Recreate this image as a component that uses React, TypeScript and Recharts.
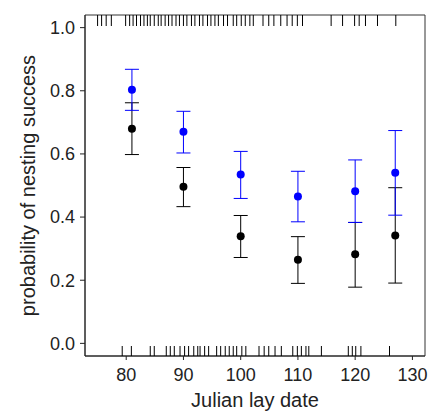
import { ComposedChart, Scatter, ErrorBar, XAxis, YAxis, ReferenceArea } from "recharts";

// lay dates of the grouped estimates
const dates = [81, 90, 100, 110, 120, 127];

// black series: estimate + 95% CI
const blackEst = [0.68, 0.496, 0.339, 0.265, 0.282, 0.342];
const blackLo = [0.598, 0.433, 0.272, 0.19, 0.178, 0.191];
const blackHi = [0.762, 0.557, 0.405, 0.338, 0.383, 0.493];

// blue series: estimate + 95% CI
const blueEst = [0.803, 0.67, 0.535, 0.465, 0.482, 0.54];
const blueLo = [0.738, 0.603, 0.459, 0.385, 0.383, 0.406];
const blueHi = [0.868, 0.735, 0.608, 0.545, 0.581, 0.674];

// rug: successful nests (top) and failed nests (bottom)
const rugTop = [
  75.0, 75.7, 76.5, 77.4, 79.9, 80.6, 81.2, 81.8, 82.5, 83.1, 83.7, 84.2, 84.9, 85.6, 86.1, 86.8,
  87.4, 88.0, 88.7, 89.3, 90.0, 90.6, 91.4, 92.0, 92.8, 93.4, 94.2, 94.8, 95.5, 96.1, 97.0, 97.7,
  98.7, 99.3, 100.1, 100.8, 101.6, 102.2, 103.9, 104.9, 105.8, 107.0, 108.1, 109.0, 109.9, 110.8,
  115.8, 117.8, 119.9, 120.7, 121.8, 123.9, 127.1,
];
const rugBottom = [
  79.3, 80.9, 84.2, 84.9, 87.0, 87.7, 88.4, 89.4, 90.2, 90.9, 91.8, 92.5, 92.9, 93.7, 94.4, 95.8,
  96.5, 97.3, 98.0, 98.7, 99.3, 100.2, 100.9, 103.2, 104.1, 104.9, 106.0, 107.1, 109.1, 109.9,
  110.6, 111.4, 111.9, 114.1, 118.8, 119.5, 120.1, 121.0, 126.0,
];

const xTicks = [80, 90, 100, 110, 120, 130];
const yTicks = [0, 0.2, 0.4, 0.6, 0.8, 1.0];

const X_DOM: [number, number] = [72.8, 132.2];
const Y_DOM: [number, number] = [-0.04, 1.04];

const FONT = "'Liberation Sans', Arial, sans-serif";

const mk = (est: number[], lo: number[], hi: number[]) =>
  dates.map((x, i) => ({ x, y: est[i], err: [est[i] - lo[i], hi[i] - est[i]] }));

const blackData = mk(blackEst, blackLo, blackHi);
const blueData = mk(blueEst, blueLo, blueHi);
const topData = rugTop.map((x) => ({ x, y: Y_DOM[1] }));
const bottomData = rugBottom.map((x) => ({ x, y: Y_DOM[0] }));

const dot = (fill: string) => (p: any) => <circle cx={p.cx} cy={p.cy} r={4} fill={fill} />;
const rugDown = (p: any) => <line x1={p.cx} x2={p.cx} y1={p.cy} y2={p.cy + 11} stroke="#000" strokeWidth={1} />;
const rugUp = (p: any) => <line x1={p.cx} x2={p.cx} y1={p.cy - 10} y2={p.cy} stroke="#000" strokeWidth={1} />;

export default function App() {
  return (
    <div style={{ position: "absolute", left: 0, top: 0, fontFamily: FONT }}>
      <ComposedChart width={428} height={412} margin={{ top: 15, right: 3, left: 0, bottom: 0 }}>
        <XAxis
          dataKey="x"
          type="number"
          domain={X_DOM}
          allowDataOverflow
          ticks={xTicks}
          tickSize={4}
          tickMargin={8}
          height={56}
          stroke="#222"
          tick={{ fill: "#222", fontSize: 18, fontFamily: FONT }}
          label={{ value: "Julian lay date", position: "insideBottom", offset: 5, fill: "#222", fontSize: 20, fontFamily: FONT }}
        />
        <YAxis
          dataKey="y"
          type="number"
          domain={Y_DOM}
          allowDataOverflow
          ticks={yTicks}
          tickFormatter={(v: number) => v.toFixed(1)}
          tickSize={5}
          tickMargin={5}
          width={85}
          stroke="#222"
          tick={{ fill: "#222", fontSize: 18, fontFamily: FONT }}
          label={{ value: "probability of nesting success", position: "center", angle: -90, dx: -15, fill: "#222", fontSize: 20, fontFamily: FONT }}
        />
        <ReferenceArea x1={X_DOM[0]} x2={X_DOM[1]} y1={Y_DOM[0]} y2={Y_DOM[1]} fill="none" fillOpacity={0} stroke="#333" strokeWidth={1} ifOverflow="visible" />
        <Scatter data={topData} shape={rugDown} isAnimationActive={false} />
        <Scatter data={bottomData} shape={rugUp} isAnimationActive={false} />
        <Scatter data={blackData} shape={dot("#000")} isAnimationActive={false}>
          <ErrorBar dataKey="err" direction="y" width={7} stroke="#000" strokeWidth={1} />
        </Scatter>
        <Scatter data={blueData} shape={dot("#0000ff")} isAnimationActive={false}>
          <ErrorBar dataKey="err" direction="y" width={7} stroke="#0000ff" strokeWidth={1} />
        </Scatter>
      </ComposedChart>
    </div>
  );
}
